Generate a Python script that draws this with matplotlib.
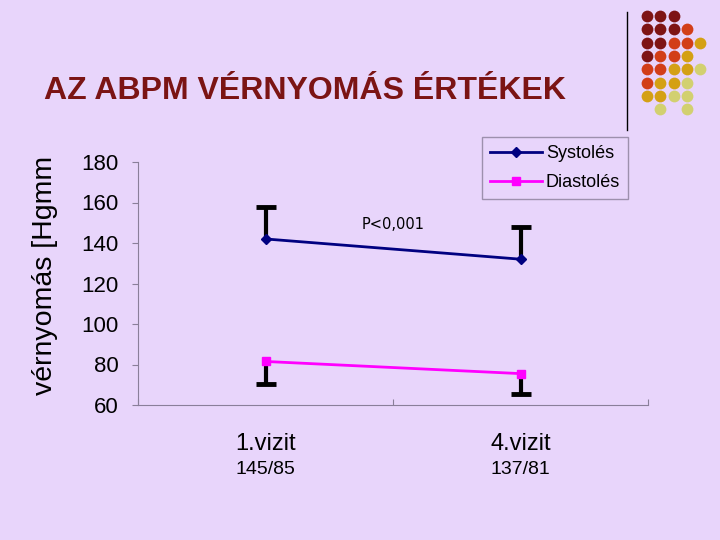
import numpy as np
import matplotlib
matplotlib.use("Agg")
import matplotlib.pyplot as plt
from matplotlib.transforms import Bbox, TransformedBbox

# data
visits = ['1.vizit', '4.vizit']
means_txt = ['145/85', '137/81']
systole = [142, 132]
systole_err = [16, 16]      # drawn upward only
diastole = [81.5, 75.5]
diastole_err = [11, 10]     # drawn downward only
p_text = 'P<0,001'

bg = '#E8D5FB'
plt.rcParams['font.family'] = ['Liberation Sans', 'DejaVu Sans']

fig = plt.figure(figsize=(7.2, 5.4), dpi=100)
fig.patch.set_facecolor(bg)

ax = fig.add_axes([0.1917, 0.25, 0.7083, 0.45])
ax.set_facecolor(bg)
x = np.arange(len(visits))

# one-sided error bars: stem + single cap
sys_top = np.add(systole, systole_err)
dia_bot = np.subtract(diastole, diastole_err)
ax.vlines(x, systole, sys_top, color='black', lw=3, zorder=2)
ax.plot(x, sys_top, ls='none', marker='_', ms=15, mew=3.5, color='black', zorder=2)
ax.vlines(x, dia_bot, diastole, color='black', lw=3, zorder=2)
ax.plot(x, dia_bot, ls='none', marker='_', ms=15, mew=3.5, color='black', zorder=2)

ax.plot(x, systole, color='#000080', marker='D', markersize=5.5, lw=2, label='Systolés', zorder=3)
ax.plot(x, diastole, color='#FF00FF', marker='s', markersize=6, lw=2, label='Diastolés', zorder=3)

ax.set_xlim(-0.5, 1.5)
ax.set_ylim(60, 180)
ax.set_yticks(np.arange(60, 181, 20))
ax.tick_params(axis='y', labelsize=16, length=4, color='#8A7F9A', pad=10)
ax.set_xticks([-0.5, 0.5, 1.5])
ax.set_xticklabels([])
ax.tick_params(axis='x', direction='in', length=4, color='#8A7F9A')
for s in ['top', 'right']:
    ax.spines[s].set_visible(False)
for s in ['left', 'bottom']:
    ax.spines[s].set_color('#8A7F9A')

for i, (v, m) in enumerate(zip(visits, means_txt)):
    ax.annotate(v, (i, 60), xytext=(0, -39), textcoords='offset pixels',
                ha='center', va='center', fontsize=17)
    ax.annotate(m, (i, 60), xytext=(0, -65), textcoords='offset pixels',
                ha='center', va='center', fontsize=14)

ax.text(0.5, 149, p_text, ha='center', va='center', fontsize=10.5, family='DejaVu Sans')

leg = ax.legend(loc='upper right', bbox_to_anchor=(0.961, 1.103), fontsize=13,
                frameon=True, fancybox=False, handlelength=2.9, borderpad=0.45,
                labelspacing=0.65, handletextpad=0.2, borderaxespad=0)
leg.get_frame().set_edgecolor('#8A7F9A')
leg.get_frame().set_facecolor(bg)
leg.get_frame().set_linewidth(1)

ylab = fig.text(0.0625, (540 - 395) / 540, 'vérnyomás [Hgmm]', rotation=90,
                ha='center', va='bottom', fontsize=20.5)
ylab.set_clip_box(TransformedBbox(Bbox([[0, 0], [1, (540 - 158) / 540]]), fig.transFigure))
ylab.set_clip_on(True)

fig.text(44 / 720, 1 - 91 / 540, 'AZ ABPM VÉRNYOMÁS ÉRTÉKEK', ha='left', va='center',
         fontsize=23, fontweight='bold', color='#7B1414')

# decorative dot pattern, top right
dot_colors = {'d': '#7E1414', 'r': '#D23E18', 'g': '#D4A014', 'o': '#D2D070'}
dot_rows = ['ddd..', 'dddr.', 'ddrrg', 'drrg.', 'rrggo', 'rggo.', 'ggoo.', '.o.o.']
deco = fig.add_axes([0, 0, 1, 1], facecolor='none')
deco.set_xlim(0, 720)
deco.set_ylim(540, 0)
deco.axis('off')
for r, row in enumerate(dot_rows):
    for c, ch in enumerate(row):
        if ch in dot_colors:
            deco.scatter(647 + c * 13.3, 16 + r * 13.3, s=72, color=dot_colors[ch], lw=0)
deco.plot([627, 627], [12, 130], color='black', lw=1)

fig.savefig('out.png', dpi=100, facecolor=bg)
